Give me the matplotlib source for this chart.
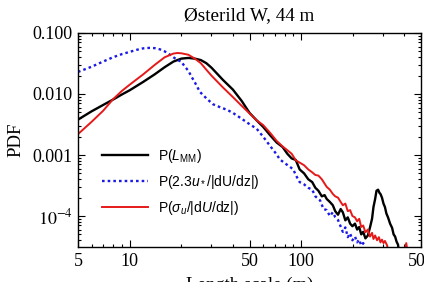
import numpy as np
import matplotlib
matplotlib.use('Agg')
import matplotlib.pyplot as plt
from matplotlib.ticker import FixedLocator, FixedFormatter, LogLocator, NullFormatter
from matplotlib.font_manager import FontProperties

plt.rcParams['font.family'] = 'serif'
plt.rcParams['font.serif'] = ['Liberation Serif', 'DejaVu Serif']
plt.rcParams['mathtext.fontset'] = 'stix'
plt.rcParams['mathtext.rm'] = 'Liberation Sans'
plt.rcParams['mathtext.it'] = 'Liberation Sans:italic'
plt.rcParams['mathtext.bf'] = 'Liberation Sans:bold'
plt.rcParams['mathtext.sf'] = 'Liberation Sans'

# P(L_MM)
x_mm = [5, 6, 7, 8, 9, 10, 12, 14, 16, 18, 20, 22, 24, 26, 28, 30, 35, 40, 45,
        50, 55, 60, 66, 72, 78, 83, 88, 93, 98, 104, 110, 116, 121, 126, 132,
        137, 141, 147, 153, 158, 164, 170, 175, 181, 187, 193, 199, 206, 212,
        218, 224, 230, 237, 245, 252, 259, 264, 270, 275, 281, 286, 290, 296,
        302, 308, 314, 321, 330, 339, 346, 353, 360, 367, 372]
p_mm = [0.0038, 0.0052, 0.0066, 0.0081, 0.0098, 0.0115, 0.0158, 0.021, 0.0275,
        0.034, 0.038, 0.039, 0.038, 0.036, 0.032, 0.027, 0.017, 0.0118, 0.0077,
        0.0049, 0.0037, 0.0029, 0.0021, 0.0016, 0.00135, 0.00105, 0.00088,
        0.00083, 0.00058, 0.00050, 0.00040, 0.00036, 0.00029, 0.00026, 0.00021,
        0.00022, 0.00019, 0.00017, 0.00015, 0.00012, 0.000105, 0.00013,
        0.000115, 8.5e-5, 9.5e-5, 7.5e-5, 6.8e-5, 7.5e-5, 6.0e-5, 6.6e-5,
        5.0e-5, 5.5e-5, 4.3e-5, 4.8e-5, 6.5e-5, 9.0e-5, 0.00014, 0.00019,
        0.00026, 0.00027, 0.00024, 0.00023, 0.00020, 0.00016, 0.00014, 0.00011,
        9.5e-5, 7.5e-5, 6.4e-5, 5.0e-5, 4.6e-5, 3.8e-5, 3.4e-5, 2.6e-5]

# P(2.3 u* / |dU/dz|)
x_us = [5, 6, 7, 8, 9, 10, 11, 12, 13, 14, 15, 16, 17, 18, 19, 20, 21, 22, 23,
        24, 25.7, 28, 30.6, 34, 37, 40, 44, 50, 55, 60, 66, 72, 75, 80, 86, 90,
        93, 98, 104, 110, 116, 121, 126, 129, 135, 141, 147, 153, 158, 164,
        169, 175, 181, 187, 193, 199, 206, 212, 218, 224, 230, 237]
p_us = [0.023, 0.028, 0.034, 0.040, 0.045, 0.049, 0.053, 0.056, 0.057, 0.0565,
        0.054, 0.050, 0.045, 0.040, 0.036, 0.034, 0.028, 0.024, 0.019, 0.0155,
        0.0108, 0.0085, 0.0068, 0.0060, 0.0055, 0.0049, 0.0041, 0.0032, 0.0027,
        0.0020, 0.0014, 0.00102, 0.00085, 0.00074, 0.00064, 0.00058, 0.00047,
        0.00036, 0.00033, 0.00029, 0.00027, 0.00021, 0.00019, 0.00018, 0.00013,
        0.000125, 0.0001, 0.000115, 9.6e-5, 8.6e-5, 7.0e-5, 5.5e-5, 6.5e-5,
        4.5e-5, 5.2e-5, 4.0e-5, 4.6e-5, 3.7e-5, 4.1e-5, 3.3e-5, 3.6e-5, 2.8e-5]

# P(sigma_u / |dU/dz|)
x_su = [5, 6, 7, 8, 9, 10, 12, 14, 16, 18, 19, 20, 22, 24, 26, 28, 30, 35, 40,
        45, 50, 55, 60, 66, 72, 78, 83, 88, 93, 98, 104, 110, 116, 121, 126,
        132, 137, 141, 147, 153, 158, 164, 170, 175, 181, 187, 193, 199, 206,
        212, 218, 224, 230, 237, 245, 252, 259, 264, 270, 277, 284, 290, 296,
        302, 308, 317, 323, 400, 410, 418]
p_su = [0.0022, 0.0035, 0.0053, 0.0082, 0.0112, 0.0142, 0.021, 0.030, 0.040,
        0.046, 0.047, 0.0465, 0.044, 0.038, 0.032, 0.025, 0.020, 0.0128, 0.0089,
        0.0064, 0.0048, 0.0037, 0.0031, 0.0023, 0.0017, 0.00138, 0.0012,
        0.00105, 0.00082, 0.00075, 0.00068, 0.00058, 0.00052, 0.00047, 0.00046,
        0.00040, 0.00034, 0.00030, 0.00027, 0.00023, 0.00021, 0.00020, 0.00017,
        0.00015, 0.00016, 0.00012, 0.000125, 0.0001, 9.5e-5, 8.2e-5, 9.0e-5,
        6.6e-5, 7.0e-5, 5.4e-5, 6.0e-5, 4.6e-5, 5.3e-5, 4.2e-5, 4.8e-5, 4.0e-5,
        4.5e-5, 3.7e-5, 4.1e-5, 3.6e-5, 3.9e-5, 3.3e-5, 2.5e-5, 2.5e-5, 3.6e-5,
        2.5e-5]

x_ticks = [5, 10, 50, 100, 500]
x_ticklabels = ['5', '10', '50', '100', '500']
y_ticks = [1e-4, 1e-3, 1e-2, 1e-1]
y_ticklabels = ['$10^{-4}$', '0.001', '0.010', '0.100']

fig = plt.figure(figsize=(4.24, 2.82), dpi=100)
ax = fig.add_axes([0.184, 0.124, 0.809, 0.759])

ax.plot(x_mm, p_mm, '-', color='black', lw=1.7, label='P($L_{\\rm MM}$)')
ax.plot(x_us, p_us, color='#1a1ae6', lw=1.7, linestyle=(0, (1.1, 1.3)),
        label='P(2.3$u_*$/|dU/dz|)')
ax.plot(x_su, p_su, '-', color='#e61919', lw=1.4,
        label='P($\\sigma_u$/|d$U$/dz|)')

ax.set_xscale('log')
ax.set_yscale('log')
ax.set_xlim(5, 500)
ax.set_ylim(3.1e-5, 0.1)

ax.xaxis.set_major_locator(FixedLocator(x_ticks))
ax.xaxis.set_major_formatter(FixedFormatter(x_ticklabels))
ax.xaxis.set_minor_locator(LogLocator(base=10, subs=np.arange(2, 10)))
ax.xaxis.set_minor_formatter(NullFormatter())
ax.yaxis.set_major_locator(FixedLocator(y_ticks))
ax.yaxis.set_major_formatter(FixedFormatter(y_ticklabels))
ax.yaxis.set_minor_locator(LogLocator(base=10, subs=np.arange(2, 10)))
ax.yaxis.set_minor_formatter(NullFormatter())

ax.tick_params(which='both', direction='in', top=True, right=True,
               labelsize=13, width=0.8, pad=4)
ax.tick_params(which='major', length=5)
ax.tick_params(which='minor', length=2.5)
for s in ax.spines.values():
    s.set_linewidth(1.0)

ax.set_title('Østerild W, 44 m', fontsize=13.8, pad=9)
ax.set_ylabel('PDF', fontsize=13.5, labelpad=6)
ax.set_xlabel('Length scale (m)', fontsize=13.5, labelpad=5)

leg = ax.legend(loc='center left', bbox_to_anchor=(0.07, 0.304), frameon=False,
                prop=FontProperties(family='Liberation Sans', size=10),
                handlelength=3.3, handletextpad=0.7, labelspacing=0.55,
                borderpad=0, borderaxespad=0)
for t in leg.get_texts():
    t.set_math_fontfamily('custom')

fig.savefig('out.png', dpi=100)
